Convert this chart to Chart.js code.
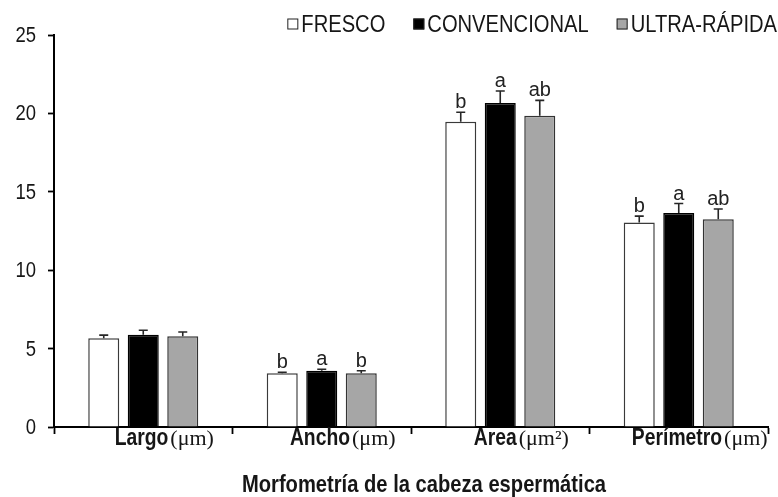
<!DOCTYPE html>
<html>
<head>
<meta charset="utf-8">
<script src="https://cdn.jsdelivr.net/npm/chart.js@4/dist/chart.umd.min.js"></script>
<style>
  html, body { margin: 0; padding: 0; background: #fff; }
  #wrap { width: 778px; height: 497px; position: relative; }
</style>
</head>
<body>
<div id="wrap"><canvas id="c"></canvas></div>
<script>
// Morfometría de la cabeza espermática: media ± error por tratamiento
const categories = ['Largo', 'Ancho', 'Area', 'Perímetro'];
const units = ['(μm)', '(μm)', '(μm²)', '(μm)'];
const seriesNames = ['FRESCO', 'CONVENCIONAL', 'ULTRA-RÁPIDA'];

const fresco       = [5.66, 3.42, 19.47, 13.05];
const convencional = [5.89, 3.59, 20.66, 13.65];
const ultraRapida  = [5.78, 3.42, 19.85, 13.25];

const errFresco       = [0.20, 0.07, 0.60, 0.40];
const errConvencional = [0.28, 0.09, 0.77, 0.60];
const errUltraRapida  = [0.28, 0.17, 0.98, 0.65];

const letrasFresco       = ['', 'b', 'b', 'b'];
const letrasConvencional = ['', 'a', 'a', 'a'];
const letrasUltraRapida  = ['', 'b', 'ab', 'ab'];

const yTicks = [0, 5, 10, 15, 20, 25];

const SANS = '"Liberation Sans", Arial, sans-serif';
const SERIF = '"Liberation Serif", "Times New Roman", serif';
const SQUEEZE = 0.84;   // condensed look for the sans-serif labels

const fills = ['#ffffff', '#000000', '#a6a6a6'];
const borders = ['#3a3a3a', '#000000', '#333333'];

function squeezedText(ctx, text, x, y, align) {
  ctx.save();
  ctx.translate(x, y);
  ctx.scale(SQUEEZE, 1);
  ctx.textAlign = align;
  ctx.fillText(text, 0, 0);
  ctx.restore();
}

// Error whiskers (upper half) and significance letters above each bar
const errorBars = {
  id: 'errorBars',
  afterDatasetsDraw(chart) {
    const { ctx } = chart;
    const y = chart.scales.y;
    chart.data.datasets.forEach((ds, i) => {
      const meta = chart.getDatasetMeta(i);
      meta.data.forEach((bar, j) => {
        const v = ds.data[j];
        const yTop = y.getPixelForValue(v + ds.errors[j]);
        const yBar = y.getPixelForValue(v);
        ctx.save();
        ctx.strokeStyle = '#262626';
        ctx.lineWidth = 1.6;
        ctx.beginPath();
        ctx.moveTo(bar.x, yBar);
        ctx.lineTo(bar.x, yTop);
        ctx.moveTo(bar.x - 4.5, yTop);
        ctx.lineTo(bar.x + 4.5, yTop);
        ctx.stroke();
        if (ds.letters[j]) {
          ctx.fillStyle = '#222';
          ctx.font = '20px ' + SANS;
          ctx.textAlign = 'center';
          ctx.textBaseline = 'alphabetic';
          ctx.fillText(ds.letters[j], bar.x, yTop - 4);
        }
        ctx.restore();
      });
    });
  }
};

// Y tick labels, placed from the y scale's own ticks
const yLabels = {
  id: 'yLabels',
  afterDraw(chart) {
    const { ctx } = chart;
    const y = chart.scales.y;
    ctx.save();
    ctx.fillStyle = '#161616';
    ctx.font = '22px ' + SANS;
    ctx.textBaseline = 'middle';
    y.ticks.forEach(t => {
      squeezedText(ctx, String(t.value), y.right - 18, y.getPixelForValue(t.value) + 1, 'right');
    });
    ctx.restore();
  }
};

// Category names (bold) with units in serif, plus axis title
const categoryLabels = {
  id: 'categoryLabels',
  afterDraw(chart) {
    const { ctx, chartArea } = chart;
    const x = chart.scales.x;
    ctx.save();
    ctx.fillStyle = '#161616';
    ctx.textBaseline = 'alphabetic';
    const base = chartArea.bottom + 18;
    const boldFont = 'bold 23px ' + SANS;
    const unitFont = '22px ' + SERIF;
    categories.forEach((name, i) => {
      ctx.font = boldFont;
      const w1 = ctx.measureText(name).width * SQUEEZE;
      ctx.font = unitFont;
      const w2 = ctx.measureText(units[i]).width;
      const gap = 2;
      const cx = x.getPixelForValue(i) + 21;
      const sx = cx - (w1 + gap + w2) / 2;
      ctx.font = boldFont;
      squeezedText(ctx, name, sx, base, 'left');
      ctx.font = unitFont;
      ctx.textAlign = 'left';
      ctx.fillText(units[i], sx + w1 + gap, base);
    });
    ctx.font = 'bold 24px ' + SANS;
    squeezedText(ctx, 'Morfometría de la cabeza espermática',
      (chartArea.left + chartArea.right) / 2 + 13, chartArea.bottom + 65, 'center');
    ctx.restore();
  }
};

// Legend at top right: small square swatch followed by series name
const topLegend = {
  id: 'topLegend',
  afterDraw(chart) {
    const { ctx } = chart;
    const box = 11, boxGap = 3, itemGap = 28;
    ctx.save();
    ctx.font = '24px ' + SANS;
    ctx.textBaseline = 'middle';
    const widths = seriesNames.map(n => ctx.measureText(n).width * SQUEEZE);
    const total = widths.reduce((a, w) => a + box + boxGap + w, 0) + itemGap * (seriesNames.length - 1);
    let px = chart.width - 1 - total;
    const cy = 24;
    seriesNames.forEach((n, i) => {
      ctx.fillStyle = fills[i];
      ctx.fillRect(px, cy - box / 2, box, box);
      ctx.strokeStyle = '#222';
      ctx.lineWidth = 1;
      ctx.strokeRect(px + 0.5, cy - box / 2 + 0.5, box - 1, box - 1);
      ctx.fillStyle = '#161616';
      squeezedText(ctx, n, px + box + boxGap, cy + 1, 'left');
      px += box + boxGap + widths[i] + itemGap;
    });
    ctx.restore();
  }
};

const series = [
  { values: fresco, errors: errFresco, letters: letrasFresco },
  { values: convencional, errors: errConvencional, letters: letrasConvencional },
  { values: ultraRapida, errors: errUltraRapida, letters: letrasUltraRapida }
];

new Chart(document.getElementById('c'), {
  type: 'bar',
  data: {
    labels: categories,
    datasets: series.map((s, i) => ({
      label: seriesNames[i],
      data: s.values,
      errors: s.errors,
      letters: s.letters,
      backgroundColor: fills[i],
      borderColor: borders[i],
      borderWidth: 1.5,
      borderSkipped: 'bottom',
      categoryPercentage: 0.664,
      barPercentage: 0.785
    }))
  },
  options: {
    responsive: true,
    maintainAspectRatio: false,
    animation: false,
    events: [],
    layout: { padding: { top: 35, right: 10, left: 0, bottom: 0 } },
    plugins: { legend: { display: false }, tooltip: { enabled: false }, title: { display: false } },
    scales: {
      x: {
        grid: { display: true, drawOnChartArea: false, drawTicks: true, tickLength: 7, tickColor: '#000', tickWidth: 1.8, offset: true },
        border: { display: true, color: '#000', width: 2 },
        ticks: { display: false },
        afterFit(scale) { scale.height = 70; }
      },
      y: {
        min: 0,
        max: 25,
        afterBuildTicks(scale) { scale.ticks = yTicks.map(v => ({ value: v })); },
        grid: { display: true, drawOnChartArea: false, drawTicks: true, tickLength: 6, tickColor: '#000', tickWidth: 1.8 },
        border: { display: true, color: '#000', width: 2 },
        ticks: { display: false },
        afterFit(scale) { scale.width = 54; }
      }
    }
  },
  plugins: [errorBars, yLabels, categoryLabels, topLegend]
});
</script>
</body>
</html>
